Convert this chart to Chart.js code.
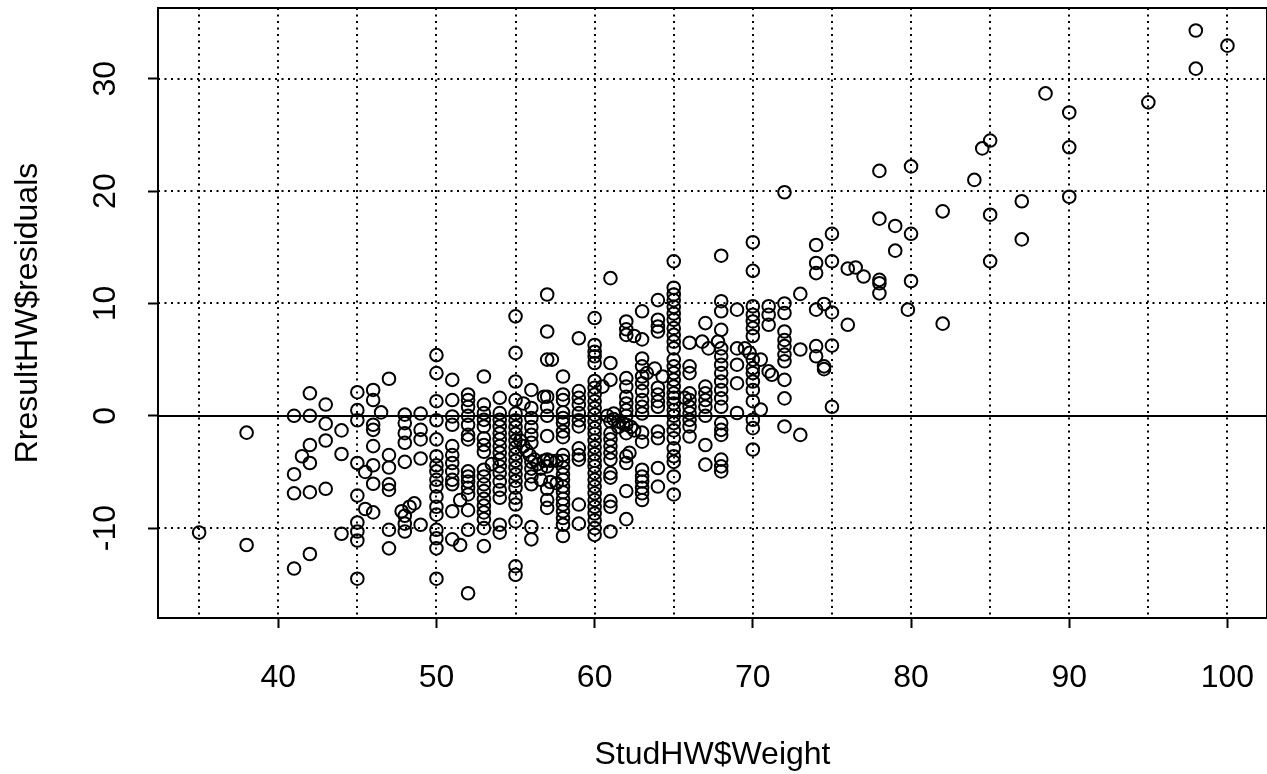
<!DOCTYPE html>
<html><head><meta charset="utf-8">
<script src="https://cdn.jsdelivr.net/npm/chart.js@4.4.1/dist/chart.umd.min.js"></script>
<style>html,body{margin:0;padding:0;background:#fff;overflow:hidden}#wrap{width:1267px;height:774px}</style>
</head><body><div id="wrap"><canvas id="c" width="1267" height="774"></canvas></div>
<script>
const weightColumns = [35,38,41,41.5,42,43,44,45,45.5,46,46.5,47,47.8,48,48.3,48.6,49,50,51,51.5,52,53,53.5,54,55,55.3,55.5,55.7,55.9,56,56.2,56.4,56.6,56.8,57,57.2,57.3,57.6,58,59,60,60.5,60.8,61,61.2,61.5,61.8,62,62.2,62.3,62.5,63,63.3,63.8,64,64.3,65,65.7,66,66.8,67,67.2,67.8,68,69,69.5,69.8,70,70.5,71,71.2,72,73,74,74.5,75,76,76.5,77,78,79,79.8,80,82,84,84.5,85,87,88.5,90,95,98,100];
const residualColumns = [
[-10.4],[-1.5,-11.5],[0.0,-5.2,-6.9,-13.6],[-3.6],[2.0,0.0,-2.6,-4.2,-6.8,-12.3],[1.0,-0.7,-2.2,-6.5],[-1.3,-3.4,-10.5],
[2.1,0.5,-0.4,-4.2,-7.1,-9.5,-10.3,-11.1,-14.5],[-5.0,-8.3],[2.3,1.4,-0.8,-1.25,-2.7,-4.4,-6.05,-8.6],[0.3],
[3.3,-3.5,-4.6,-6.1,-6.6,-10.15,-11.8],[-8.5],[0.1,-0.65,-1.55,-2.4,-4.1,-8.9,-9.6,-10.3],[-8.1],[-7.8],[0.2,-1.25,-2.1,-3.8,-9.7],
[5.4,3.8,1.3,-0.4,-2.1,-3.6,-4.4,-4.95,-5.7,-6.3,-7.2,-8.1,-8.8,-10.15,-10.9,-11.8,-14.5],
[3.2,1.4,-0.06,-0.8,-2.7,-3.5,-4.2,-4.95,-5.7,-6.1,-8.5,-11.0],[-7.5,-11.5],
[1.9,1.4,0.8,0.0,-0.8,-1.7,-2.1,-4.95,-5.4,-5.85,-6.4,-7.0,-8.4,-10.15,-15.8],
[3.5,1.0,0.24,-0.36,-0.95,-2.0,-2.6,-3.2,-4.8,-5.4,-6.1,-6.7,-7.4,-8.0,-8.6,-9.2,-10.0,-11.6],[-4.3],
[1.6,0.24,-0.36,-0.95,-1.55,-2.1,-2.7,-3.3,-3.9,-4.5,-5.1,-5.85,-6.6,-7.3,-9.7,-10.4],
[8.85,5.6,3.05,1.4,0.2,-0.4,-1.0,-1.6,-2.2,-2.8,-3.4,-4.0,-4.6,-5.2,-5.8,-6.4,-7.3,-7.9,-9.4,-13.4,-14.15],
[-2.2],[1.1,-2.7],[-3.1],[-3.5],[2.3,0.7,-0.2,-1.0,-1.7,-2.4,-4.1,-4.7,-5.4,-6.1,-9.9,-11.0],[-3.9],[-4.3],[-4.7,-5.7],[-4.0,1.7],
[10.8,7.5,5.0,1.7,0.8,0.0,-1.8,-3.9,-4.5,-6.5,-7.5,-8.2],[-4.0,-5.9],[5.0],[-4.0,-6.0],
[3.5,1.9,1.4,0.3,-0.2,-0.65,-1.4,-1.9,-3.5,-4.0,-4.6,-5.2,-5.7,-6.3,-6.8,-7.4,-7.9,-8.5,-9.1,-9.7,-10.7],
[6.9,2.2,1.6,1.0,0.24,-0.4,-0.95,-2.9,-3.5,-3.9,-7.9,-9.6],
[8.7,6.3,5.7,5.3,4.7,3.1,2.5,1.9,1.3,0.7,0.1,-0.5,-1.1,-1.6,-2.2,-2.8,-3.4,-4.0,-4.5,-5.1,-5.7,-6.3,-6.9,-7.5,-8.1,-8.7,-9.3,-10.0,-10.6],
[2.6],[0.0],[12.25,4.7,3.2,-0.5,-1.55,-2.1,-2.7,-3.3,-3.9,-5.1,-5.5,-7.6,-8.1,-10.3],[0.2,-0.3],[-0.5,-1.0],[-0.7],
[8.4,7.7,7.2,3.35,2.6,1.7,1.1,0.5,0.0,-0.8,-1.55,-3.6,-4.2,-6.7,-9.2],[-3.3],[-1.0],[7.1,-1.3],
[9.3,6.8,5.1,4.4,3.5,2.9,2.2,1.4,0.8,0.2,-1.5,-2.3,-4.8,-5.4,-5.85,-6.4,-6.9,-7.5],[3.8],[4.2],
[10.3,8.55,7.95,7.5,2.5,1.9,1.3,0.8,-1.4,-2.0,-4.65,-6.3],[3.5],
[13.75,11.4,10.8,10.3,9.7,9.1,8.55,7.8,7.2,6.6,6.0,5.0,4.4,3.8,3.2,2.6,2.0,1.6,1.1,0.5,0.0,-0.65,-1.3,-2.0,-2.9,-3.6,-4.1,-5.4,-7.0],
[1.6],[6.5,4.4,3.8,2.0,1.4,0.8,0.24,-0.36,-0.95,-1.85],[6.6],[8.25,2.6,2.0,1.4,0.8,0.0,-2.6,-4.35],[6.0],[6.6],
[14.25,10.2,9.3,7.65,6.0,5.3,4.55,3.8,3.05,2.3,1.55,0.8,-0.65,-1.25,-1.7,-3.9,-4.5,-4.95],
[9.45,6.0,4.55,2.9,0.25],[6.0],[5.6],
[15.45,12.9,9.75,9.0,8.4,7.8,7.1,5.0,4.25,3.8,3.05,2.3,1.3,-0.35,-1.1,-3.0],[5.0,0.55],[9.75,9.0,8.1,3.95],[3.65],
[19.9,10.0,9.15,7.5,6.75,6.2,5.45,4.85,3.2,1.55,-0.95],[10.85,5.9,-1.7],[15.2,13.6,12.7,9.45,6.2,5.3],[9.95,4.4,4.15],
[16.2,13.75,9.2,6.25,0.8],[13.1,8.1],[13.2],[12.4],[21.8,17.55,12.1,11.8,10.9],[16.9,14.7],[9.45],[22.2,16.2,12.0],[18.2,8.2],
[21.0],[23.8],[24.5,17.9,13.75],[19.1,15.7],[28.7],[27.0,23.9,19.5],[27.9],[34.3,30.9],[32.95]
];
const xTickValues = [40,50,60,70,80,90,100];
const yTickValues = [-10,0,10,20,30];
const xGridValues = [35,40,45,50,55,60,65,70,75,80,85,90,95,100];
const yGridValues = [-10,10,20,30];
const xAxisTitle = 'StudHW$Weight';
const yAxisTitle = 'RresultHW$residuals';

const points = [];
weightColumns.forEach((w, i) => residualColumns[i].forEach(r => points.push({x: w, y: r})));

const FONT = {family: '"Liberation Sans", Arial, sans-serif', size: 32};

const rPlot = {
  id: 'rPlot',
  beforeDatasetsDraw(chart) {
    const {ctx, chartArea: a, scales: {x, y}} = chart;
    ctx.save();
    ctx.strokeStyle = '#000';
    ctx.lineWidth = 2;
    ctx.setLineDash([2, 4.5]);
    xGridValues.forEach(v => {
      const px = Math.round(x.getPixelForValue(v));
      ctx.beginPath(); ctx.moveTo(px, a.top); ctx.lineTo(px, a.bottom); ctx.stroke();
    });
    yGridValues.forEach(v => {
      const py = Math.round(y.getPixelForValue(v));
      ctx.beginPath(); ctx.moveTo(a.left, py); ctx.lineTo(a.right, py); ctx.stroke();
    });
    ctx.setLineDash([]);
    ctx.lineWidth = 2;
    const p0 = Math.round(y.getPixelForValue(0));
    ctx.beginPath(); ctx.moveTo(a.left, p0); ctx.lineTo(a.right, p0); ctx.stroke();
    ctx.restore();
  },
  afterDraw(chart) {
    const {ctx, chartArea: a, scales: {y}} = chart;
    ctx.save();
    ctx.strokeStyle = '#000';
    ctx.lineWidth = 2;
    ctx.strokeRect(a.left, a.top, a.right - a.left, a.bottom - a.top);
    ctx.fillStyle = '#000';
    ctx.font = FONT.size + 'px ' + FONT.family;
    ctx.textAlign = 'center';
    ctx.textBaseline = 'middle';
    yTickValues.forEach(v => {
      ctx.save();
      ctx.translate(106, y.getPixelForValue(v));
      ctx.rotate(-Math.PI / 2);
      ctx.fillText(String(v), 0, 0);
      ctx.restore();
    });
    ctx.restore();
  }
};

new Chart(document.getElementById('c'), {
  type: 'scatter',
  data: {datasets: [{
    data: points,
    pointStyle: 'circle',
    pointRadius: 6.3,
    pointHoverRadius: 6.3,
    borderWidth: 2,
    borderColor: '#000',
    backgroundColor: 'rgba(0,0,0,0)'
  }]},
  options: {
    responsive: false,
    animation: false,
    devicePixelRatio: 1,
    layout: {autoPadding: false, padding: {top: 8, right: 0, left: 0, bottom: 0}},
    plugins: {legend: {display: false}, tooltip: {enabled: false}},
    scales: {
      x: {
        type: 'linear', min: 32.4, max: 102.5,
        afterBuildTicks: s => { s.ticks = xTickValues.map(v => ({value: v})); },
        afterFit: s => { s.height = 156; s.paddingLeft = 0; s.paddingRight = 0; },
        border: {display: false},
        grid: {display: true, drawOnChartArea: false, drawTicks: true, tickLength: 10, tickColor: '#000', tickWidth: 2},
        ticks: {color: '#000', font: FONT, padding: 31, maxRotation: 0, autoSkip: false},
        title: {display: true, text: xAxisTitle, color: '#000', font: FONT, padding: {top: 0, bottom: 0}}
      },
      y: {
        type: 'linear', min: -18.0, max: 36.3,
        afterBuildTicks: s => { s.ticks = yTickValues.map(v => ({value: v})); },
        afterFit: s => { s.width = 158; s.paddingTop = 0; s.paddingBottom = 0; },
        border: {display: false},
        grid: {display: true, drawOnChartArea: false, drawTicks: true, tickLength: 10, tickColor: '#000', tickWidth: 2},
        ticks: {display: false},
        title: {display: true, text: yAxisTitle, color: '#000', font: FONT, padding: {top: 9, bottom: 0}}
      }
    }
  },
  plugins: [rPlot]
});
</script></body></html>
